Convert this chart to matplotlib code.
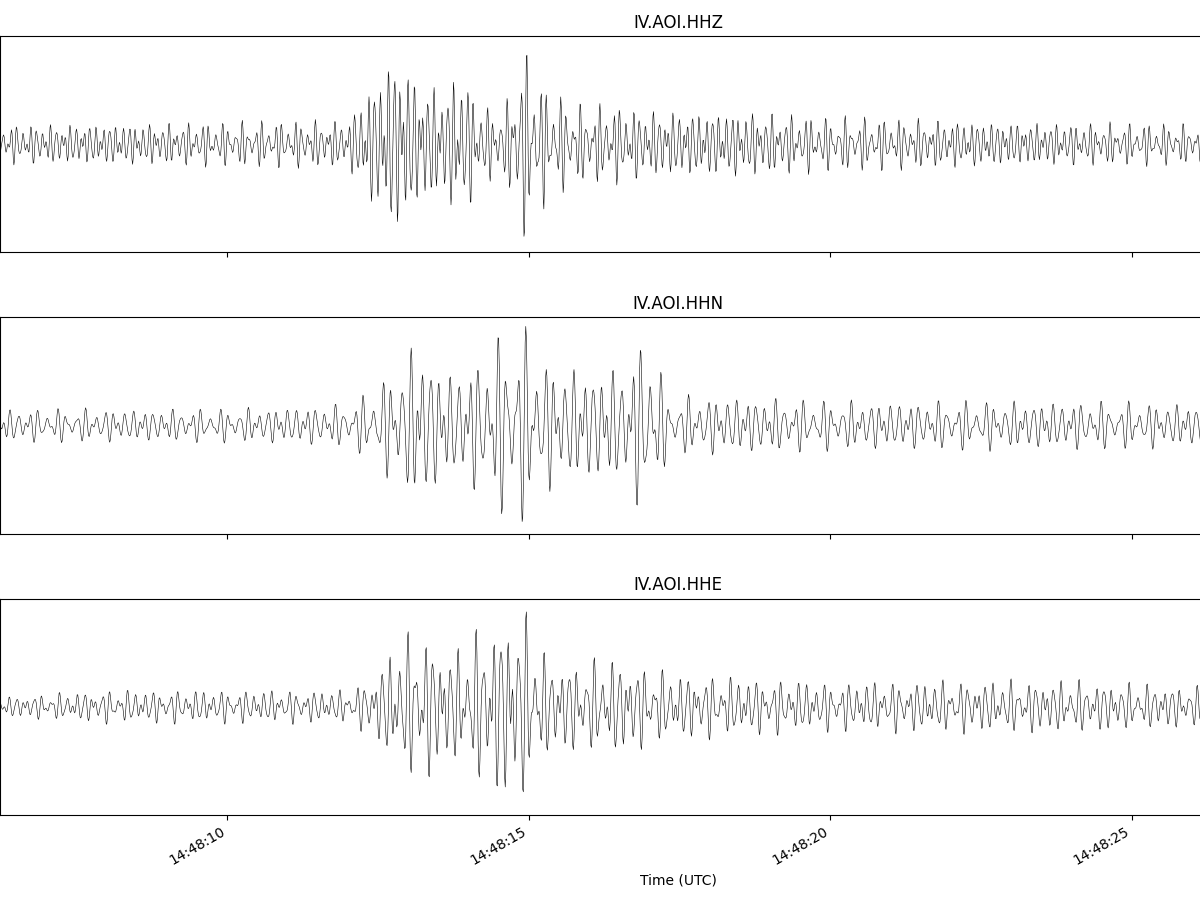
import numpy as np
import matplotlib
matplotlib.use("Agg")
import matplotlib.pyplot as plt
import matplotlib.dates as mdates
from datetime import datetime, timedelta

stations = ["IV.AOI.HHZ", "IV.AOI.HHN", "IV.AOI.HHE"]
start = datetime(2024, 1, 1, 14, 48, 6, 230000)
duration = 22.5
fs = 100.0
# envelope knots (seconds after 14:48:00) and relative amplitudes
env_t = [6.2, 8, 10, 12, 12.4, 12.8, 13.2, 13.6, 13.9, 14.2, 14.6, 14.9, 15.3, 15.8, 16.5, 17.0, 17.3, 18.5, 20, 22, 24, 26.3, 28.8]
env_z = [0.2, 0.22, 0.22, 0.25, 0.65, 1.0, 0.65, 0.6, 0.8, 0.4, 0.35, 1.0, 0.55, 0.4, 0.4, 0.35, 0.35, 0.35, 0.27, 0.25, 0.22, 0.2, 0.2]
env_n = [0.17, 0.17, 0.17, 0.22, 0.35, 0.6, 0.9, 0.55, 0.6, 0.7, 0.95, 1.0, 0.65, 0.6, 0.6, 0.95, 0.3, 0.3, 0.25, 0.25, 0.25, 0.22, 0.22]
env_e = [0.1, 0.17, 0.17, 0.17, 0.3, 0.65, 0.8, 0.6, 0.6, 0.8, 0.95, 1.0, 0.5, 0.45, 0.5, 0.4, 0.35, 0.3, 0.25, 0.27, 0.27, 0.2, 0.2]
envs = [env_z, env_n, env_e]
freqs = [[9.1, 12.3, 15.7], [6.3, 8.9, 11.1], [7.1, 9.7, 13.3]]

t = 6.23 + np.arange(0, duration, 1 / fs)
times = [start + timedelta(seconds=float(s - 6.23)) for s in t]

fig, axes = plt.subplots(3, 1, figsize=(12, 9.06), dpi=100, sharex=True)
fig.subplots_adjust(left=0.0, right=1356 / 1200, top=1 - 36 / 906, bottom=1 - 815 / 906, hspace=65 / 217)
for ax, name, env, fr in zip(axes, stations, envs, freqs):
    e = np.interp(t, env_t, env)
    carrier = (np.sin(2 * np.pi * fr[0] * t) + 0.7 * np.sin(2 * np.pi * fr[1] * t + 1.3)
               + 0.5 * np.sin(2 * np.pi * fr[2] * t + 2.1)) / 2.2
    ax.plot(times, e * carrier, color="k", lw=0.4)
    ax.set_title(name, fontsize=12)
    ax.set_yticks([])
    ax.set_ylim(-1.0, 1.0)
    ax.set_xlim(times[0], times[-1])
axes[-1].xaxis.set_major_formatter(mdates.DateFormatter("%H:%M:%S"))
axes[-1].xaxis.set_major_locator(mdates.SecondLocator(bysecond=[0, 5, 10, 15, 20, 25, 30, 35, 40, 45, 50, 55]))
plt.setp(axes[-1].get_xticklabels(), rotation=30, ha="right")
axes[-1].set_xlabel("Time (UTC)")
fig.savefig("out.png")
